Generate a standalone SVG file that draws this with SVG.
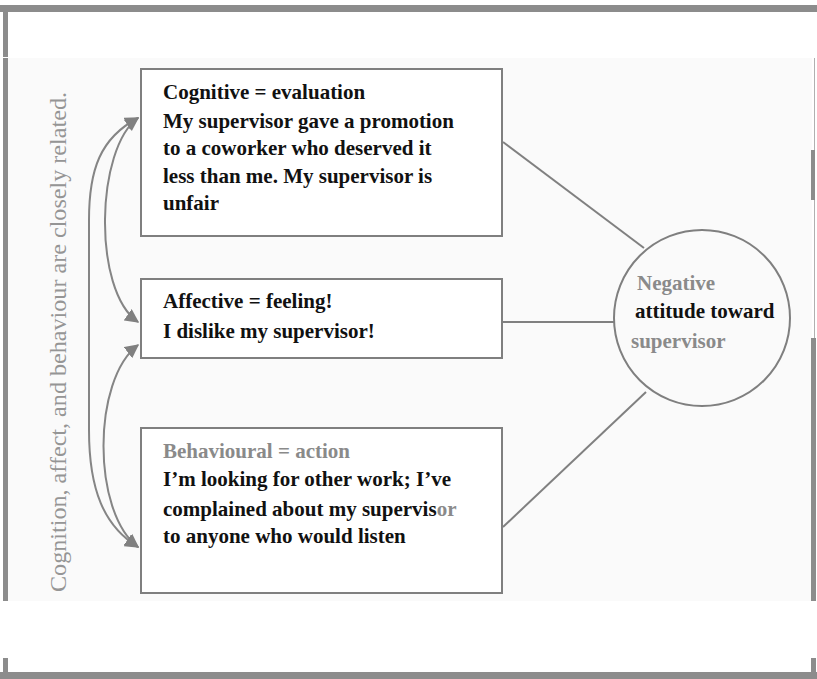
<svg xmlns="http://www.w3.org/2000/svg" width="817" height="679" viewBox="0 0 817 679">
  <style>
    .frame { fill: #8c8c8c; }
    .box { fill: #ffffff; stroke: #7f7f7f; stroke-width: 2; }
    .link { fill: none; stroke: #808080; stroke-width: 2; }
    .rel { fill: none; stroke: #858585; stroke-width: 2; }
    .t { font-family: "Liberation Serif", "Times New Roman", serif; font-weight: bold; font-size: 21px; fill: #111111; }
    .g { fill: #8a8a8a; }
    .side { font-family: "Liberation Serif", "Times New Roman", serif; font-size: 24px; fill: #959595; }
  </style>
  <defs>
    <marker id="head" viewBox="0 0 10 10" refX="9" refY="5" markerWidth="7" markerHeight="7" orient="auto-start-reverse">
      <path d="M0,0 L10,5 L0,10 z" fill="#808080"/>
    </marker>
  </defs>

  <!-- page background and panel -->
  <rect x="0" y="0" width="817" height="679" fill="#ffffff"/>
  <rect x="8" y="58" width="804" height="543" fill="#fafafa"/>

  <!-- frame bars -->
  <g id="frame">
    <rect class="frame" x="0" y="5" width="817" height="7"/>
    <rect class="frame" x="3" y="5" width="5" height="52"/>
    <rect class="frame" x="3" y="58" width="5" height="543"/>
    <rect x="814" y="58" width="1" height="280" fill="#b0b0b0"/>
    <rect class="frame" x="811" y="150" width="4" height="50"/>
    <rect class="frame" x="811" y="338" width="5" height="263"/>
    <rect class="frame" x="3" y="658" width="5" height="16"/>
    <rect class="frame" x="811" y="658" width="5" height="16"/>
    <rect class="frame" x="0" y="672" width="817" height="7"/>
  </g>

  <!-- connectors -->
  <g id="connectors">
    <line class="link" x1="503" y1="142" x2="644" y2="248"/>
    <line class="link" x1="503" y1="322" x2="614" y2="322"/>
    <line class="link" x1="503" y1="527" x2="646" y2="392"/>
    <path class="rel" d="M138,118 C96,148 92,290 138,322" marker-start="url(#head)" marker-end="url(#head)"/>
    <path class="rel" d="M138,345 C92,380 92,512 138,547" marker-start="url(#head)" marker-end="url(#head)"/>
    <path class="rel" d="M138,118 C100,138 89,170 89,220 L89,430 C89,490 104,526 138,547" marker-start="url(#head)" marker-end="url(#head)"/>
  </g>

  <!-- side caption -->
  <text class="side" transform="translate(66,592) rotate(-90)" textLength="500" lengthAdjust="spacingAndGlyphs">Cognition, affect,  and behaviour are closely related.</text>

  <g id="cognitive">
    <rect class="box" x="141" y="69" width="361" height="167"/>
    <text class="t" x="163" y="99">Cognitive = evaluation</text>
    <text class="t" x="163" y="128">My supervisor gave a promotion</text>
    <text class="t" x="163" y="155">to a coworker who deserved it</text>
    <text class="t" x="163" y="183">less than me. My supervisor is</text>
    <text class="t" x="163" y="210">unfair</text>
  </g>

  <g id="affective">
    <rect class="box" x="141" y="279" width="361" height="79"/>
    <text class="t" x="163" y="308">Affective = feeling!</text>
    <text class="t" x="163" y="338">I dislike my supervisor!</text>
  </g>

  <g id="behavioural">
    <rect class="box" x="141" y="428" width="361" height="165"/>
    <text class="t g" x="163" y="458">Behavioural = action</text>
    <text class="t" x="163" y="486">I’m looking for other work; I’ve</text>
    <text class="t" x="163" y="516">complained about my supervis<tspan class="g">or</tspan></text>
    <text class="t" x="163" y="543">to anyone who would listen</text>
  </g>

  <g id="attitude">
    <circle cx="702" cy="318" r="88" fill="#fafafa" stroke="#7f7f7f" stroke-width="2"/>
    <text class="t g" x="637" y="290">Negative</text>
    <text class="t" x="635" y="318">attitude toward</text>
    <text class="t g" x="631" y="348">supervisor</text>
  </g>
</svg>
